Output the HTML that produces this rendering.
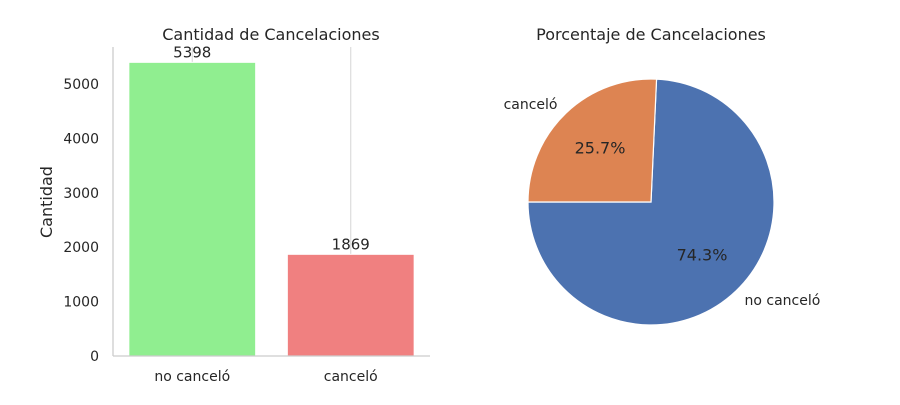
<!DOCTYPE html>
<html><head><meta charset="utf-8"><style>
body{margin:0;background:#fff;width:900px;height:400px;overflow:hidden}
svg text{font-family:"DejaVu Sans","Liberation Sans",sans-serif;fill:#262626}
</style></head><body>
<svg id="c" width="900" height="400"></svg>
<script>
const categories=["no canceló","canceló"];
const counts=[5398,1869];
const barColors=["#90ee90","#f08080"];
const yTicks=[0,1000,2000,3000,4000,5000];
const pieLabels=["no canceló","canceló"];
const pieValues=[5398,1869];
const pieColors=["#4c72b0","#dd8452"];
const NS="http://www.w3.org/2000/svg";
const svg=document.getElementById('c');
function mk(t,a,txt){const e=document.createElementNS(NS,t);for(const k in a)e.setAttribute(k,a[k]);if(txt!==undefined)e.textContent=txt;svg.appendChild(e);return e;}
const x0=113,x1=430,yb=356,yt=47;
const yS=v=>yb-v*(272/5000);
const band=(x1-x0)/categories.length;
const xC=i=>x0+band*(i+0.5);
categories.forEach((c,i)=>{let g=mk('line',{x1:xC(i),x2:xC(i),y1:yt,y2:yb,stroke:'#d6d6d6','stroke-width':1});

});
categories.forEach((c,i)=>{const w=band*0.8;
let r=mk('rect',{x:xC(i)-w/2,y:yS(counts[i]),width:w,height:yb-yS(counts[i]),fill:barColors[i],stroke:'#fff','stroke-width':1});


let t=mk('text',{x:xC(i),y:yS(counts[i])-5,'text-anchor':'middle','font-size':15},counts[i]);


let l=mk('text',{x:xC(i),y:yb+25,'text-anchor':'middle','font-size':14},c);

});
yTicks.forEach(v=>{let t=mk('text',{x:x0-14,y:yS(v)+5,'text-anchor':'end','font-size':14},v);

});
let s1=mk('line',{x1:x0,x2:x0,y1:yt,y2:yb,stroke:'#cccccc','stroke-width':1.3});


let s2=mk('line',{x1:x0,x2:x1,y1:yb,y2:yb,stroke:'#cccccc','stroke-width':1.3});


let yl=mk('text',{x:52,y:202,'text-anchor':'middle','font-size':16,transform:'rotate(-90 52 202)'},'Cantidad');


let t1=mk('text',{x:271,y:40,'text-anchor':'middle','font-size':16},'Cantidad de Cancelaciones');


// pie
const cx=651,cy=202,R=123;const tot=pieValues.reduce((a,b)=>a+b,0);
let ang=180;
pieValues.forEach((v,i)=>{const sw=v/tot*360;const a0=ang*Math.PI/180,a1=(ang+sw)*Math.PI/180;
const p=(a,r)=>[cx+r*Math.cos(a),cy-r*Math.sin(a)];
const [sx,sy]=p(a0,R),[ex,ey]=p(a1,R);
let path=mk('path',{d:`M${cx},${cy}L${sx},${sy}A${R},${R} 0 ${sw>180?1:0} 0 ${ex},${ey}Z`,fill:pieColors[i],stroke:'#fff','stroke-width':1.2});


const m=(ang+sw/2)*Math.PI/180;
const [px,py]=p(m,R*0.6),[lx,ly]=p(m,R*1.1);
let pt=mk('text',{x:px,y:py+5,'text-anchor':'middle','font-size':16},(v/tot*100).toFixed(1)+'%');


let lt=mk('text',{x:lx,y:ly+5,'text-anchor':Math.cos(m)<0?'end':'start','font-size':14},pieLabels[i]);


ang+=sw;});
let t2=mk('text',{x:651,y:40,'text-anchor':'middle','font-size':16},'Porcentaje de Cancelaciones');


</script>
</body></html>
